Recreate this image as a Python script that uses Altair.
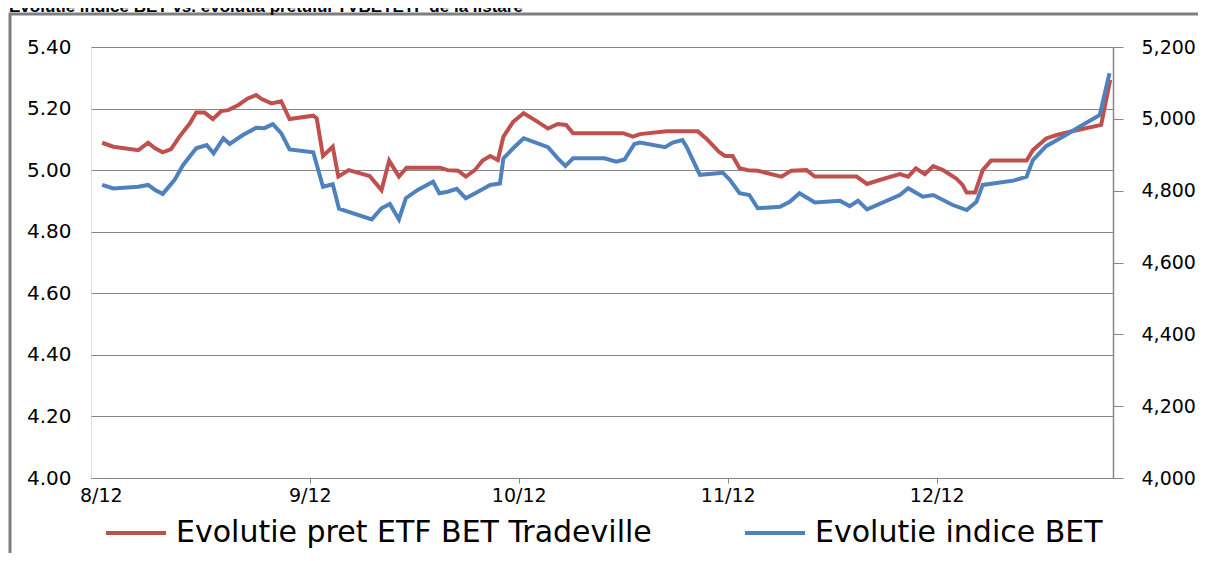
import altair as alt
import pandas as pd

title_text = "Evolutie indice BET vs. evolutia pretului TVBETETF de la listare"
series_names = ["Evolutie pret ETF BET Tradeville", "Evolutie indice BET"]
series_colors = ["#C0504D", "#4F81BD"]

# days since the first label (8/12)
etf_days = [0.2, 1.8, 5.4, 6.8, 7.8, 8.9, 10.1, 11.3, 12.8, 13.7, 14.9, 16.1, 17.3, 18.3,
            19.7, 21.1, 22.3, 23.1, 24.5, 25.9, 27.1, 30.5, 31.0, 31.9, 33.3, 34.1, 35.6,
            38.6, 40.3, 41.4, 42.8, 43.9, 48.7, 49.8, 51.3, 52.4, 53.7, 54.8, 55.9, 57.0,
            57.8, 59.2, 60.7, 62.5, 64.2, 65.6, 66.8, 67.8, 75.0, 76.4, 77.4, 81.2, 85.7,
            86.9, 88.8, 89.6, 90.7, 91.7, 92.9, 94.3, 97.7, 99.1, 101.3, 102.5, 108.5,
            110.0, 111.8, 114.7, 115.9, 117.0, 118.3, 119.5, 120.9, 122.8, 123.7, 124.3,
            125.5, 126.6, 127.8, 132.9, 133.8, 135.7, 137.2, 139.6, 143.6, 144.9]
etf_price = [5.089, 5.076, 5.065, 5.089, 5.071, 5.058, 5.068, 5.109, 5.152, 5.187, 5.187,
             5.166, 5.192, 5.195, 5.211, 5.233, 5.244, 5.231, 5.217, 5.224, 5.166, 5.177,
             5.168, 5.046, 5.076, 4.979, 5.000, 4.981, 4.935, 5.031, 4.979, 5.008, 5.008,
             5.000, 4.998, 4.979, 5.000, 5.031, 5.046, 5.033, 5.109, 5.157, 5.185, 5.160,
             5.135, 5.150, 5.147, 5.120, 5.120, 5.109, 5.117, 5.126, 5.126, 5.103, 5.058,
             5.046, 5.046, 5.006, 5.000, 4.998, 4.979, 4.998, 5.000, 4.979, 4.979, 4.955,
             4.968, 4.987, 4.979, 5.006, 4.987, 5.013, 5.000, 4.973, 4.952, 4.927, 4.927,
             5.000, 5.031, 5.031, 5.065, 5.103, 5.114, 5.127, 5.147, 5.293]

bet_days = [0.2, 1.8, 5.4, 6.8, 7.8, 8.9, 10.6, 11.8, 13.7, 15.2, 16.2, 17.6, 18.5, 20.4,
            22.3, 23.5, 24.7, 25.9, 27.1, 30.5, 31.9, 33.3, 34.2, 38.9, 40.3, 41.5, 42.8,
            43.8, 45.5, 47.7, 48.6, 49.8, 51.1, 52.4, 54.6, 55.9, 57.3, 57.8, 59.2, 60.7,
            64.2, 65.6, 66.7, 67.8, 72.3, 74.0, 75.2, 76.6, 77.4, 81.0, 82.1, 83.5, 84.1,
            86.0, 89.3, 90.3, 91.7, 93.1, 94.3, 97.5, 98.9, 100.3, 102.5, 106.1, 107.5,
            108.7, 110.0, 114.7, 115.9, 118.0, 119.5, 122.3, 124.3, 125.7, 126.6, 131.0,
            132.9, 133.8, 135.7, 138.1, 140.5, 143.4, 144.8]
bet_index = [4816, 4806, 4811, 4816, 4802, 4791, 4830, 4871, 4918, 4927, 4904, 4946, 4930,
             4955, 4975, 4974, 4985, 4960, 4915, 4907, 4811, 4818, 4750, 4720, 4751, 4763,
             4720, 4779, 4802, 4825, 4793, 4797, 4805, 4779, 4802, 4816, 4820, 4890, 4918,
             4946, 4921, 4890, 4869, 4890, 4890, 4881, 4887, 4930, 4934, 4921, 4934, 4941,
             4922, 4844, 4850, 4830, 4793, 4788, 4751, 4755, 4769, 4793, 4767, 4772, 4757,
             4772, 4748, 4788, 4807, 4783, 4788, 4760, 4746, 4769, 4816, 4828, 4839, 4885,
             4924, 4950, 4978, 5011, 5127]

tick_days = [0, 30, 60, 90, 120]
tick_labels = ["8/12", "9/12", "10/12", "11/12", "12/12"]
left_ticks = [4.0, 4.2, 4.4, 4.6, 4.8, 5.0, 5.2, 5.4]
right_ticks = [4000, 4200, 4400, 4600, 4800, 5000, 5200]

GRAY = "#868686"
FONT = "DejaVu Sans"

etf_df = pd.DataFrame({"day": etf_days, "value": etf_price, "series": series_names[0]})
bet_df = pd.DataFrame({"day": bet_days, "value": bet_index, "series": series_names[1]})

label_expr = "[" + ",".join("'" + t + "'" for t in tick_labels) + "][round(datum.value / 30)]"

x_enc = alt.X(
    "day:Q",
    scale=alt.Scale(domain=[-1.4, 145.3], nice=False, zero=False),
    axis=alt.Axis(values=tick_days, labelExpr=label_expr, title=None, grid=False,
                  domainColor=GRAY, domainWidth=1,
                  tickColor=alt.condition("datum.value == 0", alt.value("transparent"), alt.value(GRAY)),
                  tickSize=5, labelFont=FONT, labelFontSize=19, labelColor="black",
                  labelPadding=3),
)

color_enc = alt.Color(
    "series:N",
    scale=alt.Scale(domain=series_names, range=series_colors),
    legend=alt.Legend(orient="none", legendX=13, legendY=454, direction="horizontal",
                      title=None, symbolType="stroke", symbolSize=3600, symbolStrokeWidth=4,
                      labelFont=FONT, labelFontSize=30, labelColor="black", labelLimit=0,
                      labelOffset=8, columnPadding=85),
)

etf = alt.Chart(etf_df).mark_line(strokeWidth=4).encode(
    x=x_enc,
    y=alt.Y("value:Q", scale=alt.Scale(domain=[4.0, 5.4], nice=False, zero=False),
            axis=alt.Axis(values=left_ticks, format=".2f", orient="left", title=None,
                          domain=False, ticks=False, grid=True, gridColor=GRAY, gridWidth=1,
                          labelFont=FONT, labelFontSize=20, labelColor="black",
                          labelPadding=20)),
    color=color_enc,
)

bet = alt.Chart(bet_df).mark_line(strokeWidth=4).encode(
    x=x_enc,
    y=alt.Y("value:Q", scale=alt.Scale(domain=[4000, 5200], nice=False, zero=False),
            axis=alt.Axis(values=right_ticks, format=",.0f", orient="right", title=None,
                          grid=False, domainColor=GRAY, domainWidth=1.5, tickColor=GRAY,
                          tickSize=10, labelFont=FONT, labelFontSize=19, labelColor="black",
                          labelPadding=18)),
    color=color_enc,
)

frame = alt.Chart(pd.DataFrame({"a": [0]})).mark_rect(
    fillOpacity=0, stroke="#7F7F7F", strokeWidth=3
).encode(x=alt.value(-81), x2=alt.value(1400), y=alt.value(-33), y2=alt.value(800))

title = alt.Chart(pd.DataFrame({"t": [title_text]})).mark_text(
    align="left", baseline="alphabetic", font="Liberation Sans", fontSize=17,
    fontWeight="bold", color="black"
).encode(x=alt.value(-82), y=alt.value(-35), text="t:N")

chart = alt.layer(frame, etf, bet, title).resolve_scale(y="independent").properties(
    width=1022, height=431,
    padding={"left": 83, "top": 39, "right": 85, "bottom": 75},
    autosize=alt.AutoSizeParams(type="none"),
).configure_view(stroke=None).configure(background="white")

chart.save("out.html", embed_options={"renderer": "svg", "actions": False})
